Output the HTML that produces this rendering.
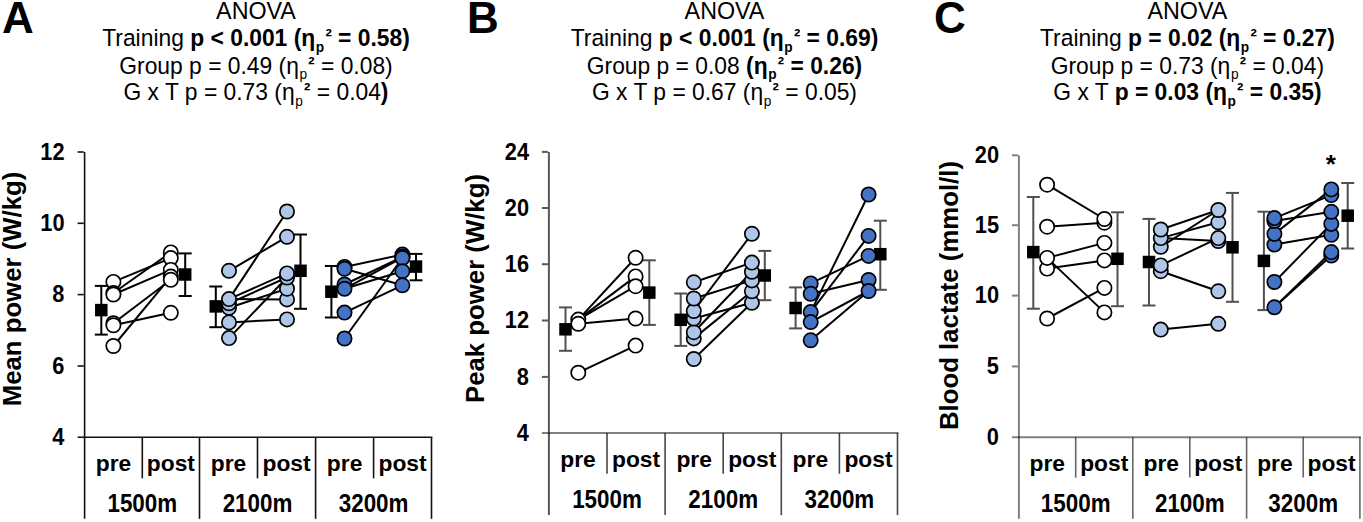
<!DOCTYPE html><html><head><meta charset="utf-8"><style>html,body{margin:0;padding:0;background:#fff;width:1363px;height:522px;overflow:hidden}svg{display:block}text{font-family:"Liberation Sans", sans-serif;fill:#000}</style></head><body>
<svg width="1363" height="522" viewBox="0 0 1363 522">
<rect width="1363" height="522" fill="#fff"/>
<text x="2" y="33.2" font-size="44" font-weight="bold">A</text>
<text x="467" y="33.2" font-size="44" font-weight="bold">B</text>
<text x="934" y="33.2" font-size="44" font-weight="bold">C</text>
<text transform="translate(256.00,19.00) scale(1,1.02)" font-size="23.3" text-anchor="middle">ANOVA</text>
<text transform="translate(256.00,46.40) scale(1,1.02)" font-size="22.85" text-anchor="middle">Training <tspan font-weight="bold">p &lt; 0.001 (η<tspan font-size="13.7" dy="5" dx="0.6">p</tspan><tspan font-size="19" font-weight="bold" dy="-8" dx="1.2">²</tspan><tspan dy="3"> = 0.58)</tspan></tspan></text>
<text transform="translate(256.00,73.70) scale(1,1.02)" font-size="22.85" text-anchor="middle">Group p = 0.49 (η<tspan font-size="13.7" dy="5" dx="0.6">p</tspan><tspan font-size="19" font-weight="bold" dy="-8" dx="1.2">²</tspan><tspan dy="3"> = 0.08)</tspan></text>
<text transform="translate(256.00,100.40) scale(1,1.02)" font-size="22.85" text-anchor="middle">G x T p = 0.73 (η<tspan font-size="13.7" dy="5" dx="0.6">p</tspan><tspan font-size="19" font-weight="bold" dy="-8" dx="1.2">²</tspan><tspan dy="3"> = 0.04</tspan><tspan font-weight="bold">)</tspan></text>
<text transform="translate(724.50,19.00) scale(1,1.02)" font-size="23.3" text-anchor="middle">ANOVA</text>
<text transform="translate(724.50,46.40) scale(1,1.02)" font-size="22.85" text-anchor="middle">Training <tspan font-weight="bold">p &lt; 0.001 (η<tspan font-size="13.7" dy="5" dx="0.6">p</tspan><tspan font-size="19" font-weight="bold" dy="-8" dx="1.2">²</tspan><tspan dy="3"> = 0.69)</tspan></tspan></text>
<text transform="translate(724.50,73.70) scale(1,1.02)" font-size="22.85" text-anchor="middle">Group p = 0.08 <tspan font-weight="bold">(η<tspan font-size="13.7" dy="5" dx="0.6">p</tspan><tspan font-size="19" font-weight="bold" dy="-8" dx="1.2">²</tspan><tspan dy="3"> = 0.26)</tspan></tspan></text>
<text transform="translate(724.50,100.40) scale(1,1.02)" font-size="22.85" text-anchor="middle">G x T p = 0.67 (η<tspan font-size="13.7" dy="5" dx="0.6">p</tspan><tspan font-size="19" font-weight="bold" dy="-8" dx="1.2">²</tspan><tspan dy="3"> = 0.05)</tspan></text>
<text transform="translate(1187.40,19.00) scale(1,1.02)" font-size="23.3" text-anchor="middle">ANOVA</text>
<text transform="translate(1187.40,46.40) scale(1,1.02)" font-size="22.85" text-anchor="middle">Training <tspan font-weight="bold">p = 0.02 (η<tspan font-size="13.7" dy="5" dx="0.6">p</tspan><tspan font-size="19" font-weight="bold" dy="-8" dx="1.2">²</tspan><tspan dy="3"> = 0.27)</tspan></tspan></text>
<text transform="translate(1187.40,73.70) scale(1,1.02)" font-size="22.85" text-anchor="middle">Group p = 0.73 (η<tspan font-size="13.7" dy="5" dx="0.6">p</tspan><tspan font-size="19" font-weight="bold" dy="-8" dx="1.2">²</tspan><tspan dy="3"> = 0.04)</tspan></text>
<text transform="translate(1187.40,100.40) scale(1,1.02)" font-size="22.85" text-anchor="middle">G x T <tspan font-weight="bold">p = 0.03 (η<tspan font-size="13.7" dy="5" dx="0.6">p</tspan><tspan font-size="19" font-weight="bold" dy="-8" dx="1.2">²</tspan><tspan dy="3"> = 0.35)</tspan></tspan></text>
<g stroke="#111" stroke-width="1.6" fill="none">
<line x1="84.6" y1="152.0" x2="84.6" y2="518.8" stroke="#111"/>
<line x1="77.6" y1="437.2" x2="432.3" y2="437.2" stroke="#111"/>
<line x1="77.6" y1="152.0" x2="83.8" y2="152.0"/>
<line x1="77.6" y1="223.3" x2="83.8" y2="223.3"/>
<line x1="77.6" y1="294.6" x2="83.8" y2="294.6"/>
<line x1="77.6" y1="366.0" x2="83.8" y2="366.0"/>
<line x1="142.3" y1="437.2" x2="142.3" y2="478.3" stroke="#111" stroke-width="1.6"/>
<line x1="199.5" y1="437.2" x2="199.5" y2="518.8" stroke="#111" stroke-width="1.6"/>
<line x1="257.5" y1="437.2" x2="257.5" y2="478.3" stroke="#111" stroke-width="1.6"/>
<line x1="315.6" y1="437.2" x2="315.6" y2="518.8" stroke="#111" stroke-width="1.6"/>
<line x1="373.6" y1="437.2" x2="373.6" y2="478.3" stroke="#111" stroke-width="1.6"/>
<line x1="431.5" y1="437.2" x2="431.5" y2="518.8" stroke="#111" stroke-width="1.6"/>
</g>
<text transform="translate(64.50,159.60) scale(1,1.1)" font-size="21.8" font-weight="bold" text-anchor="end">12</text>
<text transform="translate(64.50,230.90) scale(1,1.1)" font-size="21.8" font-weight="bold" text-anchor="end">10</text>
<text transform="translate(64.50,302.20) scale(1,1.1)" font-size="21.8" font-weight="bold" text-anchor="end">8</text>
<text transform="translate(64.50,373.60) scale(1,1.1)" font-size="21.8" font-weight="bold" text-anchor="end">6</text>
<text transform="translate(64.50,444.80) scale(1,1.1)" font-size="21.8" font-weight="bold" text-anchor="end">4</text>
<text transform="translate(21,289) rotate(-90)" text-anchor="middle" font-size="25.75" font-weight="bold">Mean power (W/kg)</text>
<text x="113.45" y="471.40" font-size="22.8" font-weight="bold" text-anchor="middle">pre</text>
<text x="170.90" y="471.40" font-size="22.8" font-weight="bold" text-anchor="middle">post</text>
<text x="228.50" y="471.40" font-size="22.8" font-weight="bold" text-anchor="middle">pre</text>
<text x="286.55" y="471.40" font-size="22.8" font-weight="bold" text-anchor="middle">post</text>
<text x="344.60" y="471.40" font-size="22.8" font-weight="bold" text-anchor="middle">pre</text>
<text x="402.55" y="471.40" font-size="22.8" font-weight="bold" text-anchor="middle">post</text>
<text transform="translate(142.30,511.80) scale(1,1.12)" font-size="22.4" font-weight="bold" text-anchor="middle">1500m</text>
<text transform="translate(257.50,511.80) scale(1,1.12)" font-size="22.4" font-weight="bold" text-anchor="middle">2100m</text>
<text transform="translate(373.60,511.80) scale(1,1.12)" font-size="22.4" font-weight="bold" text-anchor="middle">3200m</text>
<g stroke="#000" stroke-width="2.0">
<line x1="113.4" y1="281.9" x2="170.8" y2="258.1"/>
<line x1="113.4" y1="293.0" x2="170.8" y2="252.4"/>
<line x1="113.4" y1="294.5" x2="170.8" y2="269.9"/>
<line x1="113.4" y1="323.2" x2="170.8" y2="279.8"/>
<line x1="113.4" y1="325.3" x2="170.8" y2="312.8"/>
<line x1="113.4" y1="346.0" x2="170.8" y2="276.6"/>
</g>
<g stroke="#000" stroke-width="2.0"><line x1="101.3" y1="285.9" x2="101.3" y2="334.6"/><line x1="94.8" y1="285.9" x2="107.8" y2="285.9"/><line x1="94.8" y1="334.6" x2="107.8" y2="334.6"/></g>
<rect x="95.05" y="303.85" width="12.5" height="12.5" fill="#000"/>
<g stroke="#000" stroke-width="2.0"><line x1="185.2" y1="253.4" x2="185.2" y2="296.0"/><line x1="178.7" y1="253.4" x2="191.7" y2="253.4"/><line x1="178.7" y1="296.0" x2="191.7" y2="296.0"/></g>
<rect x="178.95" y="268.25" width="12.5" height="12.5" fill="#000"/>
<g stroke="#000" stroke-width="1.7" fill="#ffffff">
<circle cx="113.4" cy="281.9" r="7.15"/>
<circle cx="113.4" cy="293.0" r="7.15"/>
<circle cx="113.4" cy="294.5" r="7.15"/>
<circle cx="113.4" cy="323.2" r="7.15"/>
<circle cx="113.4" cy="325.3" r="7.15"/>
<circle cx="113.4" cy="346.0" r="7.15"/>
<circle cx="170.8" cy="252.4" r="7.15"/>
<circle cx="170.8" cy="258.1" r="7.15"/>
<circle cx="170.8" cy="269.9" r="7.15"/>
<circle cx="170.8" cy="276.6" r="7.15"/>
<circle cx="170.8" cy="279.8" r="7.15"/>
<circle cx="170.8" cy="312.8" r="7.15"/>
</g>
<g stroke="#000" stroke-width="2.0">
<line x1="229.0" y1="270.8" x2="287.0" y2="236.8"/>
<line x1="229.0" y1="299.1" x2="287.0" y2="211.5"/>
<line x1="229.0" y1="299.1" x2="287.0" y2="273.4"/>
<line x1="229.0" y1="303.3" x2="287.0" y2="277.5"/>
<line x1="229.0" y1="307.8" x2="287.0" y2="288.7"/>
<line x1="229.0" y1="299.1" x2="287.0" y2="299.4"/>
<line x1="229.0" y1="322.4" x2="287.0" y2="319.4"/>
<line x1="229.0" y1="338.1" x2="287.0" y2="277.5"/>
</g>
<g stroke="#000" stroke-width="2.0"><line x1="215.8" y1="286.5" x2="215.8" y2="327.2"/><line x1="209.3" y1="286.5" x2="222.3" y2="286.5"/><line x1="209.3" y1="327.2" x2="222.3" y2="327.2"/></g>
<rect x="209.55" y="300.15" width="12.5" height="12.5" fill="#000"/>
<g stroke="#000" stroke-width="2.0"><line x1="300.5" y1="234.5" x2="300.5" y2="308.8"/><line x1="294.0" y1="234.5" x2="307.0" y2="234.5"/><line x1="294.0" y1="308.8" x2="307.0" y2="308.8"/></g>
<rect x="294.25" y="264.55" width="12.5" height="12.5" fill="#000"/>
<g stroke="#000" stroke-width="1.7" fill="#aec6e8">
<circle cx="229.0" cy="338.1" r="7.15"/>
<circle cx="229.0" cy="322.4" r="7.15"/>
<circle cx="229.0" cy="307.8" r="7.15"/>
<circle cx="229.0" cy="303.3" r="7.15"/>
<circle cx="229.0" cy="299.1" r="7.15"/>
<circle cx="229.0" cy="270.8" r="7.15"/>
<circle cx="287.0" cy="319.4" r="7.15"/>
<circle cx="287.0" cy="299.4" r="7.15"/>
<circle cx="287.0" cy="288.7" r="7.15"/>
<circle cx="287.0" cy="277.5" r="7.15"/>
<circle cx="287.0" cy="273.4" r="7.15"/>
<circle cx="287.0" cy="236.8" r="7.15"/>
<circle cx="287.0" cy="211.5" r="7.15"/>
</g>
<g stroke="#000" stroke-width="2.0">
<line x1="344.5" y1="266.9" x2="402.4" y2="254.6"/>
<line x1="344.5" y1="268.8" x2="402.4" y2="285.3"/>
<line x1="344.5" y1="284.5" x2="402.4" y2="256.8"/>
<line x1="344.5" y1="288.8" x2="402.4" y2="257.5"/>
<line x1="344.5" y1="288.8" x2="402.4" y2="271.2"/>
<line x1="344.5" y1="312.6" x2="402.4" y2="285.3"/>
<line x1="344.5" y1="338.5" x2="402.4" y2="258.0"/>
</g>
<g stroke="#000" stroke-width="2.0"><line x1="331.4" y1="266.0" x2="331.4" y2="317.5"/><line x1="324.9" y1="266.0" x2="337.9" y2="266.0"/><line x1="324.9" y1="317.5" x2="337.9" y2="317.5"/></g>
<rect x="325.15" y="285.45" width="12.5" height="12.5" fill="#000"/>
<g stroke="#000" stroke-width="2.0"><line x1="416.0" y1="253.9" x2="416.0" y2="280.3"/><line x1="409.5" y1="253.9" x2="422.5" y2="253.9"/><line x1="409.5" y1="280.3" x2="422.5" y2="280.3"/></g>
<rect x="409.75" y="260.35" width="12.5" height="12.5" fill="#000"/>
<g stroke="#000" stroke-width="1.7" fill="#4472c4">
<circle cx="344.5" cy="266.9" r="7.15"/>
<circle cx="344.5" cy="268.8" r="7.15"/>
<circle cx="344.5" cy="284.5" r="7.15"/>
<circle cx="344.5" cy="288.8" r="7.15"/>
<circle cx="344.5" cy="312.6" r="7.15"/>
<circle cx="344.5" cy="338.5" r="7.15"/>
<circle cx="402.4" cy="254.6" r="7.15"/>
<circle cx="402.4" cy="256.8" r="7.15"/>
<circle cx="402.4" cy="257.5" r="7.15"/>
<circle cx="402.4" cy="258.0" r="7.15"/>
<circle cx="402.4" cy="271.2" r="7.15"/>
<circle cx="402.4" cy="285.3" r="7.15"/>
</g>
<g stroke="rgba(0,0,0,0.66)" stroke-width="2.0" fill="none">
<line x1="548.9" y1="151.9" x2="548.9" y2="515.1" stroke="rgba(0,0,0,0.66)"/>
<line x1="541.9" y1="433.0" x2="898.5" y2="433.0" stroke="rgba(0,0,0,0.5)"/>
<line x1="541.9" y1="151.9" x2="547.9" y2="151.9"/>
<line x1="541.9" y1="208.0" x2="547.9" y2="208.0"/>
<line x1="541.9" y1="264.2" x2="547.9" y2="264.2"/>
<line x1="541.9" y1="320.5" x2="547.9" y2="320.5"/>
<line x1="541.9" y1="376.9" x2="547.9" y2="376.9"/>
<line x1="607.0" y1="433.0" x2="607.0" y2="473.8" stroke="rgba(0,0,0,0.72)" stroke-width="1.6"/>
<line x1="665.1" y1="433.0" x2="665.1" y2="515.1" stroke="rgba(0,0,0,0.72)" stroke-width="1.6"/>
<line x1="723.2" y1="433.0" x2="723.2" y2="473.8" stroke="rgba(0,0,0,0.72)" stroke-width="1.6"/>
<line x1="781.3" y1="433.0" x2="781.3" y2="515.1" stroke="rgba(0,0,0,0.72)" stroke-width="1.6"/>
<line x1="839.4" y1="433.0" x2="839.4" y2="473.8" stroke="rgba(0,0,0,0.72)" stroke-width="1.6"/>
<line x1="897.5" y1="433.0" x2="897.5" y2="515.1" stroke="rgba(0,0,0,0.72)" stroke-width="1.6"/>
</g>
<text transform="translate(529.00,159.50) scale(1,1.1)" font-size="21.8" font-weight="bold" text-anchor="end">24</text>
<text transform="translate(529.00,215.60) scale(1,1.1)" font-size="21.8" font-weight="bold" text-anchor="end">20</text>
<text transform="translate(529.00,271.80) scale(1,1.1)" font-size="21.8" font-weight="bold" text-anchor="end">16</text>
<text transform="translate(529.00,328.10) scale(1,1.1)" font-size="21.8" font-weight="bold" text-anchor="end">12</text>
<text transform="translate(529.00,384.50) scale(1,1.1)" font-size="21.8" font-weight="bold" text-anchor="end">8</text>
<text transform="translate(529.00,440.60) scale(1,1.1)" font-size="21.8" font-weight="bold" text-anchor="end">4</text>
<text transform="translate(484,288.5) rotate(-90)" text-anchor="middle" font-size="25.75" font-weight="bold">Peak power (W/kg)</text>
<text x="577.95" y="466.90" font-size="22.8" font-weight="bold" text-anchor="middle">pre</text>
<text x="636.05" y="466.90" font-size="22.8" font-weight="bold" text-anchor="middle">post</text>
<text x="694.15" y="466.90" font-size="22.8" font-weight="bold" text-anchor="middle">pre</text>
<text x="752.25" y="466.90" font-size="22.8" font-weight="bold" text-anchor="middle">post</text>
<text x="810.35" y="466.90" font-size="22.8" font-weight="bold" text-anchor="middle">pre</text>
<text x="868.45" y="466.90" font-size="22.8" font-weight="bold" text-anchor="middle">post</text>
<text transform="translate(607.00,508.00) scale(1,1.12)" font-size="22.4" font-weight="bold" text-anchor="middle">1500m</text>
<text transform="translate(723.20,508.00) scale(1,1.12)" font-size="22.4" font-weight="bold" text-anchor="middle">2100m</text>
<text transform="translate(839.40,508.00) scale(1,1.12)" font-size="22.4" font-weight="bold" text-anchor="middle">3200m</text>
<g stroke="#000" stroke-width="2.0">
<line x1="578.3" y1="319.6" x2="635.6" y2="257.8"/>
<line x1="578.3" y1="319.6" x2="635.6" y2="276.4"/>
<line x1="578.3" y1="319.6" x2="635.6" y2="286.2"/>
<line x1="578.3" y1="323.8" x2="635.6" y2="318.5"/>
<line x1="578.3" y1="372.7" x2="635.6" y2="345.6"/>
</g>
<g stroke="#505050" stroke-width="2.0"><line x1="565.5" y1="307.4" x2="565.5" y2="350.8"/><line x1="559.0" y1="307.4" x2="572.0" y2="307.4"/><line x1="559.0" y1="350.8" x2="572.0" y2="350.8"/></g>
<rect x="559.25" y="323.05" width="12.5" height="12.5" fill="#000"/>
<g stroke="#505050" stroke-width="2.0"><line x1="649.3" y1="260.3" x2="649.3" y2="324.9"/><line x1="642.8" y1="260.3" x2="655.8" y2="260.3"/><line x1="642.8" y1="324.9" x2="655.8" y2="324.9"/></g>
<rect x="643.05" y="286.35" width="12.5" height="12.5" fill="#000"/>
<g stroke="#000" stroke-width="1.7" fill="#ffffff">
<circle cx="578.3" cy="319.6" r="7.15"/>
<circle cx="578.3" cy="323.8" r="7.15"/>
<circle cx="578.3" cy="372.7" r="7.15"/>
<circle cx="635.6" cy="257.8" r="7.15"/>
<circle cx="635.6" cy="276.4" r="7.15"/>
<circle cx="635.6" cy="286.2" r="7.15"/>
<circle cx="635.6" cy="318.5" r="7.15"/>
<circle cx="635.6" cy="345.6" r="7.15"/>
</g>
<g stroke="#000" stroke-width="2.0">
<line x1="693.8" y1="282.3" x2="751.9" y2="262.6"/>
<line x1="693.8" y1="298.5" x2="751.9" y2="280.4"/>
<line x1="693.8" y1="311.0" x2="751.9" y2="233.8"/>
<line x1="693.8" y1="318.5" x2="751.9" y2="302.8"/>
<line x1="693.8" y1="332.2" x2="751.9" y2="271.8"/>
<line x1="693.8" y1="338.4" x2="751.9" y2="291.3"/>
<line x1="693.8" y1="359.0" x2="751.9" y2="302.8"/>
</g>
<g stroke="#505050" stroke-width="2.0"><line x1="680.7" y1="293.5" x2="680.7" y2="345.9"/><line x1="674.2" y1="293.5" x2="687.2" y2="293.5"/><line x1="674.2" y1="345.9" x2="687.2" y2="345.9"/></g>
<rect x="674.45" y="313.55" width="12.5" height="12.5" fill="#000"/>
<g stroke="#505050" stroke-width="2.0"><line x1="764.8" y1="250.9" x2="764.8" y2="300.2"/><line x1="758.3" y1="250.9" x2="771.3" y2="250.9"/><line x1="758.3" y1="300.2" x2="771.3" y2="300.2"/></g>
<rect x="758.55" y="269.25" width="12.5" height="12.5" fill="#000"/>
<g stroke="#000" stroke-width="1.7" fill="#aec6e8">
<circle cx="693.8" cy="359.0" r="7.15"/>
<circle cx="693.8" cy="338.4" r="7.15"/>
<circle cx="693.8" cy="332.2" r="7.15"/>
<circle cx="693.8" cy="318.5" r="7.15"/>
<circle cx="693.8" cy="311.0" r="7.15"/>
<circle cx="693.8" cy="298.5" r="7.15"/>
<circle cx="693.8" cy="282.3" r="7.15"/>
<circle cx="751.9" cy="302.8" r="7.15"/>
<circle cx="751.9" cy="291.3" r="7.15"/>
<circle cx="751.9" cy="280.4" r="7.15"/>
<circle cx="751.9" cy="271.8" r="7.15"/>
<circle cx="751.9" cy="262.6" r="7.15"/>
<circle cx="751.9" cy="233.8" r="7.15"/>
</g>
<g stroke="#000" stroke-width="2.0">
<line x1="810.7" y1="283.4" x2="868.6" y2="255.9"/>
<line x1="810.7" y1="293.8" x2="868.6" y2="280.0"/>
<line x1="810.7" y1="312.1" x2="868.6" y2="194.5"/>
<line x1="810.7" y1="312.1" x2="868.6" y2="235.9"/>
<line x1="810.7" y1="322.1" x2="868.6" y2="291.0"/>
<line x1="810.7" y1="340.3" x2="868.6" y2="291.0"/>
</g>
<g stroke="#505050" stroke-width="2.0"><line x1="795.6" y1="287.4" x2="795.6" y2="328.4"/><line x1="789.1" y1="287.4" x2="802.1" y2="287.4"/><line x1="789.1" y1="328.4" x2="802.1" y2="328.4"/></g>
<rect x="789.35" y="301.75" width="12.5" height="12.5" fill="#000"/>
<g stroke="#505050" stroke-width="2.0"><line x1="880.3" y1="220.7" x2="880.3" y2="289.8"/><line x1="873.8" y1="220.7" x2="886.8" y2="220.7"/><line x1="873.8" y1="289.8" x2="886.8" y2="289.8"/></g>
<rect x="874.05" y="247.95" width="12.5" height="12.5" fill="#000"/>
<g stroke="#000" stroke-width="1.7" fill="#4472c4">
<circle cx="810.7" cy="283.4" r="7.15"/>
<circle cx="810.7" cy="293.8" r="7.15"/>
<circle cx="810.7" cy="312.1" r="7.15"/>
<circle cx="810.7" cy="322.1" r="7.15"/>
<circle cx="810.7" cy="340.3" r="7.15"/>
<circle cx="868.6" cy="194.5" r="7.15"/>
<circle cx="868.6" cy="235.9" r="7.15"/>
<circle cx="868.6" cy="255.9" r="7.15"/>
<circle cx="868.6" cy="280.0" r="7.15"/>
<circle cx="868.6" cy="291.0" r="7.15"/>
</g>
<g stroke="rgba(0,0,0,0.5)" stroke-width="2.0" fill="none">
<line x1="1018.9" y1="155.3" x2="1018.9" y2="518.7" stroke="rgba(0,0,0,0.5)"/>
<line x1="1011.9" y1="437.2" x2="1360.9" y2="437.2" stroke="rgba(0,0,0,0.5)"/>
<line x1="1011.9" y1="155.3" x2="1017.9" y2="155.3"/>
<line x1="1011.9" y1="225.2" x2="1017.9" y2="225.2"/>
<line x1="1011.9" y1="295.6" x2="1017.9" y2="295.6"/>
<line x1="1011.9" y1="366.4" x2="1017.9" y2="366.4"/>
<line x1="1075.7" y1="437.2" x2="1075.7" y2="477.6" stroke="rgba(0,0,0,0.6)" stroke-width="1.6"/>
<line x1="1132.8" y1="437.2" x2="1132.8" y2="518.7" stroke="rgba(0,0,0,0.6)" stroke-width="1.6"/>
<line x1="1189.8" y1="437.2" x2="1189.8" y2="477.6" stroke="rgba(0,0,0,0.6)" stroke-width="1.6"/>
<line x1="1246.6" y1="437.2" x2="1246.6" y2="518.7" stroke="rgba(0,0,0,0.6)" stroke-width="1.6"/>
<line x1="1303.2" y1="437.2" x2="1303.2" y2="477.6" stroke="rgba(0,0,0,0.6)" stroke-width="1.6"/>
<line x1="1359.9" y1="437.2" x2="1359.9" y2="518.7" stroke="rgba(0,0,0,0.6)" stroke-width="1.6"/>
</g>
<text transform="translate(999.00,162.90) scale(1,1.1)" font-size="21.8" font-weight="bold" text-anchor="end">20</text>
<text transform="translate(999.00,232.80) scale(1,1.1)" font-size="21.8" font-weight="bold" text-anchor="end">15</text>
<text transform="translate(999.00,303.20) scale(1,1.1)" font-size="21.8" font-weight="bold" text-anchor="end">10</text>
<text transform="translate(999.00,374.00) scale(1,1.1)" font-size="21.8" font-weight="bold" text-anchor="end">5</text>
<text transform="translate(999.00,444.80) scale(1,1.1)" font-size="21.8" font-weight="bold" text-anchor="end">0</text>
<text transform="translate(957.6,295.5) rotate(-90)" text-anchor="middle" font-size="25.75" font-weight="bold">Blood lactate (mmol/l)</text>
<text x="1047.30" y="471.40" font-size="22.8" font-weight="bold" text-anchor="middle">pre</text>
<text x="1104.25" y="471.40" font-size="22.8" font-weight="bold" text-anchor="middle">post</text>
<text x="1161.30" y="471.40" font-size="22.8" font-weight="bold" text-anchor="middle">pre</text>
<text x="1218.20" y="471.40" font-size="22.8" font-weight="bold" text-anchor="middle">post</text>
<text x="1274.90" y="471.40" font-size="22.8" font-weight="bold" text-anchor="middle">pre</text>
<text x="1331.55" y="471.40" font-size="22.8" font-weight="bold" text-anchor="middle">post</text>
<text transform="translate(1075.70,511.80) scale(1,1.12)" font-size="22.4" font-weight="bold" text-anchor="middle">1500m</text>
<text transform="translate(1189.80,511.80) scale(1,1.12)" font-size="22.4" font-weight="bold" text-anchor="middle">2100m</text>
<text transform="translate(1303.20,511.80) scale(1,1.12)" font-size="22.4" font-weight="bold" text-anchor="middle">3200m</text>
<g stroke="#000" stroke-width="2.0">
<line x1="1047.1" y1="184.7" x2="1104.4" y2="219.0"/>
<line x1="1047.1" y1="226.7" x2="1104.4" y2="222.7"/>
<line x1="1047.1" y1="257.9" x2="1104.4" y2="242.9"/>
<line x1="1047.1" y1="257.9" x2="1104.4" y2="312.4"/>
<line x1="1047.1" y1="268.6" x2="1104.4" y2="260.4"/>
<line x1="1047.1" y1="318.5" x2="1104.4" y2="287.9"/>
</g>
<g stroke="#505050" stroke-width="2.0"><line x1="1033.3" y1="197.0" x2="1033.3" y2="308.7"/><line x1="1026.8" y1="197.0" x2="1039.8" y2="197.0"/><line x1="1026.8" y1="308.7" x2="1039.8" y2="308.7"/></g>
<rect x="1027.05" y="245.85" width="12.5" height="12.5" fill="#000"/>
<g stroke="#505050" stroke-width="2.0"><line x1="1117.5" y1="212.3" x2="1117.5" y2="306.2"/><line x1="1111.0" y1="212.3" x2="1124.0" y2="212.3"/><line x1="1111.0" y1="306.2" x2="1124.0" y2="306.2"/></g>
<rect x="1111.25" y="252.55" width="12.5" height="12.5" fill="#000"/>
<g stroke="#000" stroke-width="1.7" fill="#ffffff">
<circle cx="1047.1" cy="318.5" r="7.15"/>
<circle cx="1047.1" cy="268.6" r="7.15"/>
<circle cx="1047.1" cy="257.9" r="7.15"/>
<circle cx="1047.1" cy="226.7" r="7.15"/>
<circle cx="1047.1" cy="184.7" r="7.15"/>
<circle cx="1104.4" cy="312.4" r="7.15"/>
<circle cx="1104.4" cy="287.9" r="7.15"/>
<circle cx="1104.4" cy="260.4" r="7.15"/>
<circle cx="1104.4" cy="242.9" r="7.15"/>
<circle cx="1104.4" cy="222.7" r="7.15"/>
<circle cx="1104.4" cy="219.0" r="7.15"/>
</g>
<g stroke="#000" stroke-width="2.0">
<line x1="1160.8" y1="229.5" x2="1218.3" y2="210.0"/>
<line x1="1160.8" y1="238.1" x2="1218.3" y2="222.3"/>
<line x1="1160.8" y1="246.8" x2="1218.3" y2="210.0"/>
<line x1="1160.8" y1="238.1" x2="1218.3" y2="241.0"/>
<line x1="1160.8" y1="265.4" x2="1218.3" y2="238.1"/>
<line x1="1160.8" y1="271.2" x2="1218.3" y2="291.3"/>
<line x1="1160.8" y1="329.6" x2="1218.3" y2="323.8"/>
</g>
<g stroke="#505050" stroke-width="2.0"><line x1="1149.0" y1="218.9" x2="1149.0" y2="305.5"/><line x1="1142.5" y1="218.9" x2="1155.5" y2="218.9"/><line x1="1142.5" y1="305.5" x2="1155.5" y2="305.5"/></g>
<rect x="1142.75" y="255.75" width="12.5" height="12.5" fill="#000"/>
<g stroke="#505050" stroke-width="2.0"><line x1="1232.5" y1="192.9" x2="1232.5" y2="301.8"/><line x1="1226.0" y1="192.9" x2="1239.0" y2="192.9"/><line x1="1226.0" y1="301.8" x2="1239.0" y2="301.8"/></g>
<rect x="1226.25" y="241.05" width="12.5" height="12.5" fill="#000"/>
<g stroke="#000" stroke-width="1.7" fill="#aec6e8">
<circle cx="1160.8" cy="329.6" r="7.15"/>
<circle cx="1160.8" cy="271.2" r="7.15"/>
<circle cx="1160.8" cy="265.4" r="7.15"/>
<circle cx="1160.8" cy="246.8" r="7.15"/>
<circle cx="1160.8" cy="238.1" r="7.15"/>
<circle cx="1160.8" cy="229.5" r="7.15"/>
<circle cx="1218.3" cy="323.8" r="7.15"/>
<circle cx="1218.3" cy="291.3" r="7.15"/>
<circle cx="1218.3" cy="241.0" r="7.15"/>
<circle cx="1218.3" cy="238.1" r="7.15"/>
<circle cx="1218.3" cy="222.3" r="7.15"/>
<circle cx="1218.3" cy="210.0" r="7.15"/>
</g>
<g stroke="#000" stroke-width="2.0">
<line x1="1274.4" y1="218.1" x2="1331.3" y2="195.1"/>
<line x1="1274.4" y1="221.0" x2="1331.3" y2="211.8"/>
<line x1="1274.4" y1="233.9" x2="1331.3" y2="189.4"/>
<line x1="1274.4" y1="244.6" x2="1331.3" y2="234.8"/>
<line x1="1274.4" y1="282.0" x2="1331.3" y2="223.9"/>
<line x1="1274.4" y1="307.3" x2="1331.3" y2="252.1"/>
<line x1="1274.4" y1="307.3" x2="1331.3" y2="255.5"/>
</g>
<g stroke="#505050" stroke-width="2.0"><line x1="1263.9" y1="211.7" x2="1263.9" y2="310.1"/><line x1="1257.4" y1="211.7" x2="1270.4" y2="211.7"/><line x1="1257.4" y1="310.1" x2="1270.4" y2="310.1"/></g>
<rect x="1257.65" y="254.64999999999998" width="12.5" height="12.5" fill="#000"/>
<g stroke="#505050" stroke-width="2.0"><line x1="1347.7" y1="183.0" x2="1347.7" y2="248.5"/><line x1="1341.2" y1="183.0" x2="1354.2" y2="183.0"/><line x1="1341.2" y1="248.5" x2="1354.2" y2="248.5"/></g>
<rect x="1341.45" y="209.45" width="12.5" height="12.5" fill="#000"/>
<g stroke="#000" stroke-width="1.7" fill="#4472c4">
<circle cx="1274.4" cy="307.3" r="7.15"/>
<circle cx="1274.4" cy="282.0" r="7.15"/>
<circle cx="1274.4" cy="244.6" r="7.15"/>
<circle cx="1274.4" cy="233.9" r="7.15"/>
<circle cx="1274.4" cy="221.0" r="7.15"/>
<circle cx="1274.4" cy="218.1" r="7.15"/>
<circle cx="1331.3" cy="255.5" r="7.15"/>
<circle cx="1331.3" cy="252.1" r="7.15"/>
<circle cx="1331.3" cy="234.8" r="7.15"/>
<circle cx="1331.3" cy="223.9" r="7.15"/>
<circle cx="1331.3" cy="211.8" r="7.15"/>
<circle cx="1331.3" cy="195.1" r="7.15"/>
<circle cx="1331.3" cy="189.4" r="7.15"/>
</g>
<text x="1330.8" y="172.5" text-anchor="middle" font-size="26" font-weight="bold">*</text>
</svg></body></html>
